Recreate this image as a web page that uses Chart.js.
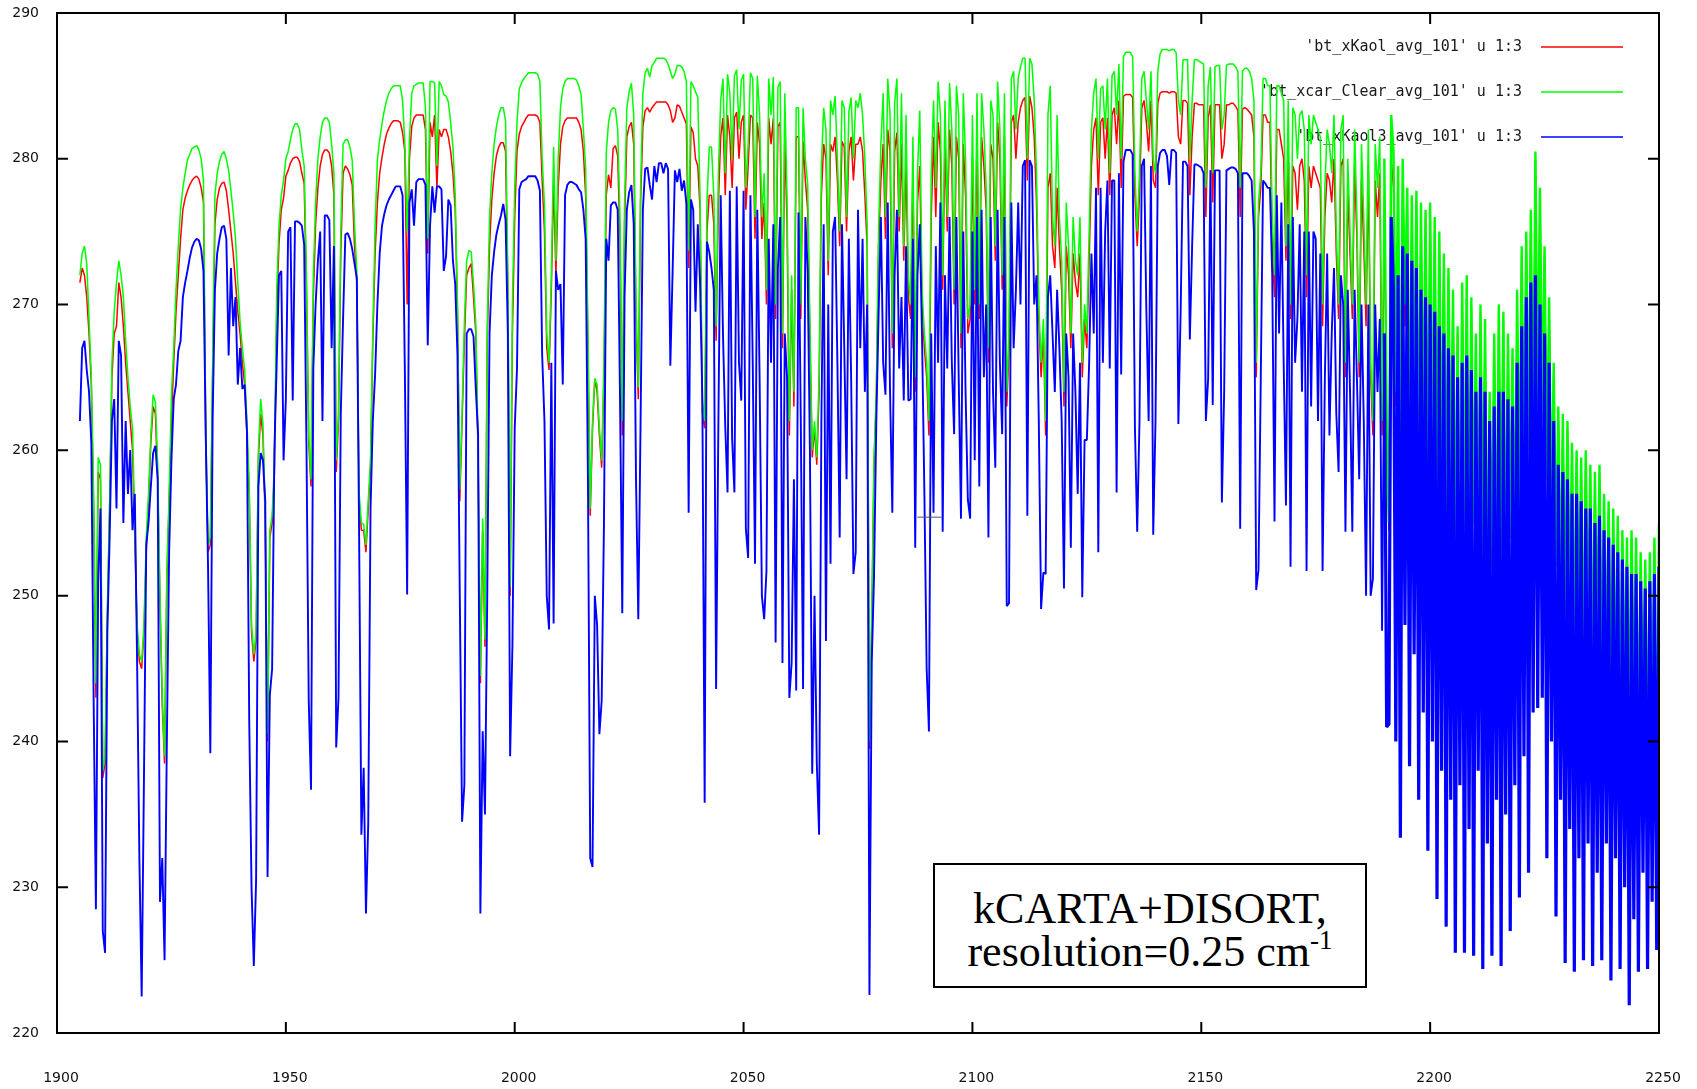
<!DOCTYPE html>
<html>
<head>
<meta charset="utf-8">
<title>kCARTA+DISORT brightness temperatures</title>
<script src="https://cdn.jsdelivr.net/npm/chart.js@4.4.1/dist/chart.umd.min.js"></script>
<style>
  html, body { margin: 0; padding: 0; background: #fff; }
  #wrap { position: relative; width: 1697px; height: 1089px; }
  #note {
    position: absolute; left: 933px; top: 863px;
    width: 430px; height: 99px; padding-top: 22px;
    border: 2px solid #000; background: #fff; color: #000;
    font-family: "Liberation Serif", "Times New Roman", serif;
    font-size: 44px; line-height: 43px; text-align: center;
  }
  #note sup { font-size: 27px; line-height: 0; vertical-align: 17px; }
</style>
</head>
<body>
<div id="wrap">
  <canvas id="bt" width="1697" height="1089"></canvas>
  <div id="note">kCARTA+DISORT,<br>resolution=0.25 cm<sup>-1</sup></div>
</div>
<script>
const WN_START = 1905;
const WN_STEP = 0.5;
const DENSE_FROM = 2190;
const X_MIN = 1900, X_MAX = 2250, X_STEP = 50;
const Y_MIN = 220, Y_MAX = 290, Y_STEP = 10;

const keyLabels = [
  "'bt_xKaol_avg_101' u 1:3",
  "'bt_xcar_Clear_avg_101' u 1:3",
  "'bt_xKaol3_avg_101' u 1:3"
];

// brightness temperature (K), one value every 0.5 cm-1 from 1905 to 2250
const btKaol = [
  271.5, 272.5, 272, 270.5, 268, 264.5, 256, 243, 258.5, 258,
  237.5, 238.5, 248.5, 256, 265, 268, 268.5, 271.5, 270.5, 268.5,
  266, 264, 262, 260, 254, 247.5, 245.5, 245, 247.5, 253,
  256.5, 260.5, 263, 262.5, 258, 249.5, 242.5, 238.5, 251, 256.5,
  262, 266, 269.5, 272, 274.5, 276.5, 277.3, 277.8, 278.2, 278.5,
  278.7, 278.8, 278.6, 278, 277, 260.5, 253, 253.5, 265, 275.5,
  277.2, 278, 278.3, 278.4, 277.8, 276.5, 275, 273.5, 271.5, 269.5,
  268, 266, 264.5, 261, 257, 247.5, 245.5, 247, 259.5, 262.5,
  261, 255, 240, 254, 255, 258.5, 269.5, 274.2, 276.5, 277.3,
  278.8, 279.2, 279.7, 280, 280.1, 280.1, 279.8, 279, 278.3, 271,
  260.5, 257.5, 270.5, 275.5, 278, 279.5, 280.3, 280.6, 280.6, 280.4,
  279.5, 277.5, 258.5, 262, 273.5, 279, 279.5, 279.3, 278.9, 278.2,
  274, 271.5, 256.5, 254.5, 254.5, 253, 256, 258.8, 267.5, 273.5,
  277, 279, 280.1, 281, 281.7, 282.1, 282.4, 282.6, 282.6, 282.6,
  282.5, 281.8, 280.5, 270, 280, 282.2, 282.8, 283, 283, 283,
  283, 282, 273.5, 282.5, 281.5, 283, 278, 282, 281.5, 282,
  282, 281.5, 280.5, 279, 276.5, 269.5, 256.5, 262, 267.5, 272,
  272.5, 272.8, 270.5, 268, 259.5, 244, 254.5, 246.5, 267.5, 274,
  277.2, 279, 280.2, 280.8, 281.1, 281.1, 280.5, 271, 250, 268,
  276, 280.5, 281.7, 282.2, 282.5, 282.8, 283, 283, 283, 283,
  282.9, 282.5, 278.5, 275, 267, 265.5, 271, 278.5, 272, 278,
  281, 282.2, 282.6, 282.8, 282.8, 282.8, 282.8, 282.8, 282.5, 282,
  280.5, 277.5, 267, 255.5, 261.5, 264.9, 264, 261, 258.8, 265,
  277.5, 278.9, 278, 280.7, 280.9, 280.2, 274.5, 261, 275.5, 281.5,
  282.2, 282.5, 281, 269, 263.5, 277, 282.2, 283.3, 283.5, 283.2,
  283.5, 283.7, 283.9, 283.9, 283.9, 283.9, 283.9, 283.7, 283.3, 282.5,
  282.8, 283.7, 283.6, 283.2, 282.8, 282.4, 272.5, 282.2, 281.8, 280,
  279.5, 276.5, 262.5, 261.5, 275, 277.5, 277.5, 275.5, 267.5, 277,
  281.5, 282.8, 277.5, 283, 281.5, 278, 282.8, 283.2, 280, 282.5,
  283, 276.5, 279.5, 283, 282.8, 274.5, 282.5, 281, 274.5, 277,
  270, 282.8, 281, 282.8, 269, 282.2, 282.5, 267, 281.5, 275.5,
  261, 271, 263, 281.5, 281.5, 269, 281.2, 278.5, 276.5, 267.5,
  259.5, 261.5, 259, 264, 277.5, 281, 280, 272, 281, 280.5,
  281.5, 278.5, 274, 281.2, 280.8, 275, 280.5, 281.5, 278.5, 281,
  281, 281.5, 280.5, 277.5, 274, 239.5, 248, 259, 263.5, 274,
  278.5, 281, 274.5, 282, 280.5, 267, 280.5, 281.8, 275, 281,
  273, 280, 270.5, 269, 279, 264, 277, 279.5, 270, 267,
  265, 261, 276, 281.5, 276, 282.5, 280.5, 271, 281, 275,
  282, 279.5, 270, 281.5, 280, 267, 281, 277.5, 268, 269,
  280, 270, 281.5, 269, 281.5, 279.5, 276.5, 266, 281, 280,
  273, 282.5, 280, 271, 281.5, 263, 267, 282.5, 283, 280,
  282.5, 283.5, 284, 284.2, 278.5, 284.3, 283.5, 281.5, 277, 269,
  265, 268, 261, 278, 279, 274, 272.5, 278, 274, 271,
  263, 274, 272, 267, 273.5, 271.5, 270.5, 273.5, 265, 269,
  267, 273, 279.5, 282, 282.8, 277.5, 282.5, 282.8, 280, 282.8,
  277.5, 283, 283.5, 281, 284, 278, 284.3, 284.4, 284.4, 284.4,
  284.2, 277.5, 274, 277.5, 283.5, 284, 282.5, 280.5, 284, 278.5,
  278, 283.8, 284.5, 284.6, 284.6, 284.6, 284.5, 284.6, 284.6, 284.5,
  281.5, 281, 284, 284, 283.8, 277.5, 281.5, 283.8, 283.8, 283.7,
  283.7, 283.7, 276, 282.8, 283.7, 277, 283.7, 283.7, 283.7, 280,
  281, 283.7, 283.7, 283.8, 283.8, 283.6, 283.3, 276, 283.4, 283.5,
  283.4, 283.2, 283, 281.5, 265, 276, 278, 283, 283, 282.5,
  282.5, 274, 270.5, 282, 282, 281, 280, 273, 280.5, 269,
  279.5, 279, 276.5, 279.5, 280, 278.5, 270.5, 279.5, 278, 279.5,
  279, 278.5, 278, 268.5, 276, 279, 278.5, 277, 280, 273.5,
  269, 279.5, 280, 265, 278, 273.5, 269, 279.5, 274.5, 265,
  278.5, 274, 268.5, 279.5, 265, 261, 278.5, 276, 279, 261,
  277.5, 261, 254.5, 280, 278, 263, 277.5, 257, 278, 268.5,
  277.5, 259, 277, 262, 277.3, 257, 276.5, 260, 276, 256,
  276.5, 259, 275.5, 255, 274.5, 258, 273, 254, 272, 257,
  270.5, 252, 268, 250, 271, 254, 271.5, 251, 270, 255,
  267.5, 250, 269.5, 253, 268.5, 249.5, 263.5, 252, 267.5, 250,
  269.5, 253, 269, 250, 267.5, 254, 266.5, 252, 270.5, 256,
  273.5, 258, 274.5, 260, 276, 259, 280, 263, 277.5, 262,
  273.5, 258, 270, 255, 265.5, 252, 262.5, 250, 262, 247,
  261.5, 249, 260, 246, 259.5, 248, 259, 245, 259.5, 247,
  258.5, 244, 258, 246, 258.5, 243, 256.5, 245, 256, 242,
  255.5, 244, 255, 241, 254, 243, 253.5, 240, 254, 242,
  253.5, 239, 252.5, 241, 252, 238, 252.5, 240, 253.5, 236,
  254.5
];

const btClear = [
  272, 273.5, 274, 272.8, 269, 265, 257, 244, 259.5, 259,
  238, 239, 249, 256.5, 266, 269.5, 271.5, 273, 272, 270.5,
  267.5, 265, 263, 261.5, 255, 248, 246, 245.5, 248, 254,
  257, 261, 263.8, 263.3, 259, 250, 243, 239, 251.7, 257,
  263.8, 267, 271, 274, 276.5, 278, 279, 279.9, 280.3, 280.7,
  280.8, 280.9, 280.6, 280, 278.5, 261.5, 253.5, 254, 266, 277.5,
  279, 279.8, 280.3, 280.5, 280, 279.2, 277.8, 276.3, 274.5, 271.5,
  268.8, 267, 265.5, 262, 257.5, 248, 246, 247.5, 260, 263.5,
  261.8, 255.5, 240.5, 254.5, 255.5, 259, 271, 275.4, 277.5, 278.5,
  280, 280.5, 281.3, 282, 282.4, 282.4, 282, 280.6, 279.5, 272,
  261, 258, 272, 277, 280, 281.5, 282.5, 282.8, 282.8, 282.5,
  281, 279, 259.3, 262.5, 275, 281, 281.3, 281.3, 280.8, 279.9,
  275.5, 272.3, 257.1, 255, 254.9, 253.5, 256.6, 259.3, 268.2, 275.4,
  279.9, 281.3, 282.4, 283.3, 284, 284.5, 284.8, 285, 285, 285,
  285, 284, 281, 275, 281.3, 284.5, 285, 285.1, 285.2, 285.2,
  285.2, 283.5, 274.5, 285.3, 285.3, 285.2, 279.5, 285.3, 285, 284.4,
  284.3, 283.9, 282.5, 280.8, 277.5, 270, 257.3, 262.5, 268.7, 273,
  273.7, 273.6, 271.4, 268.7, 260, 244.5, 255.3, 247, 268.5, 276,
  279, 281, 282.2, 283, 283.5, 283.5, 282.6, 272, 250.6, 270,
  278, 282.5, 284.8, 285.2, 285.5, 285.7, 285.9, 285.9, 285.9, 285.9,
  285.8, 285.3, 280, 276.8, 268, 266, 272, 280.8, 273, 280,
  283.5, 284.8, 285.3, 285.5, 285.5, 285.5, 285.5, 285.4, 285, 284.4,
  282, 279.3, 268, 256, 262, 264.9, 264.5, 261.5, 259.3, 266,
  280.4, 282.5, 283.3, 283.5, 283.4, 282, 276, 262, 277, 283.5,
  284.6, 285.2, 283, 270, 264.3, 278, 284.5, 285.9, 286.2, 285.6,
  286.4, 286.6, 286.9, 286.9, 286.9, 286.9, 286.8, 286.5, 286, 285.5,
  285.8, 286.4, 286.4, 286.3, 286, 285.3, 273.7, 285.3, 285, 284.6,
  284.2, 277.3, 263.4, 262, 277, 280.8, 280.8, 277.4, 268.5, 279,
  284, 285.5, 279, 285.8, 284.5, 280, 285.7, 286.1, 282, 285.4,
  285.8, 278, 281, 285.9, 285.5, 276, 285.7, 283, 276, 279,
  271, 285.5, 283, 285.6, 270, 284.9, 285.3, 268, 284.5, 277.4,
  262, 272, 264, 283.5, 283.5, 270, 283.5, 280, 278.3, 268.5,
  260, 262, 259.5, 265, 279.5, 283.5, 282, 273, 284, 283,
  284.3, 280, 275, 284, 283.5, 276, 283.2, 284.2, 280, 284,
  283.5, 284.5, 283, 280, 275.5, 240, 248.6, 259.5, 264, 275.2,
  281, 284.5, 276, 285.5, 283, 268, 283.8, 285.5, 276, 284.5,
  274, 283, 272, 270, 281.5, 265, 279, 283.3, 271, 268,
  266, 262, 279, 284, 278, 285.3, 283, 272, 284, 276,
  285.2, 282, 271, 285, 283, 268, 284.5, 280, 269, 270,
  283, 271, 284.5, 270, 284.5, 282, 278, 267, 284, 283,
  274, 285.3, 282, 272, 284.5, 264, 268, 285.5, 286, 282,
  285.5, 286.3, 286.9, 286.9, 280, 286.9, 286.5, 284, 279, 270,
  266, 269, 262, 283, 285, 276, 274, 283, 276, 273,
  264, 277, 274, 268, 276, 273, 272, 276, 266, 270,
  268, 275, 282, 284.5, 285.5, 280, 284.8, 285, 282, 285.5,
  279, 285.7, 286, 283, 286.5, 280, 287, 287.3, 287.3, 287.3,
  287, 279, 275, 279, 285.5, 286, 284, 282, 286, 280,
  279, 286, 287.2, 287.5, 287.5, 287.5, 287.4, 287.5, 287.5, 287.3,
  284, 283, 286.8, 286.8, 286.8, 280, 284, 286.8, 286.8, 286.7,
  286.6, 286.5, 278, 285, 286.3, 279, 286.3, 286.4, 286.4, 282,
  283, 286.4, 286.5, 286.5, 286.5, 286.3, 286, 278, 286, 286.2,
  286.2, 286, 285.5, 284, 266, 277, 279, 285.5, 285.5, 285,
  285, 276, 272, 285, 285, 284.5, 284, 274, 284, 270,
  283.5, 283, 280, 283, 283.3, 282, 272, 283, 281, 283,
  282.5, 282, 281.5, 270, 278, 282, 281, 279, 283, 275,
  270, 282, 283, 266, 280, 275, 270, 282, 276, 266,
  281, 276, 270, 282, 266, 262, 281, 278, 281.5, 262,
  280, 262, 255, 283, 280.5, 264, 279.5, 258, 280, 270,
  278, 259, 277.5, 262, 277.8, 257, 277, 260, 276.5, 256,
  277, 259, 276, 255, 275, 258, 273.5, 254, 272.5, 257,
  271, 252, 268.5, 250, 271.5, 254, 272, 251, 270.5, 255,
  268, 250, 270, 253, 269, 249.5, 264, 252, 268, 250,
  270, 253, 269.5, 250, 268, 254, 267, 252, 271, 256,
  274, 258, 275, 260, 276.5, 259, 280.5, 263, 278, 262,
  274, 258, 270.5, 255, 266, 252, 263, 250, 262.5, 247,
  262, 249, 260.5, 246, 260, 248, 259.5, 245, 260, 247,
  259, 244, 258.5, 246, 259, 243, 257, 245, 256.5, 242,
  256, 244, 255.5, 241, 254.5, 243, 254, 240, 254.5, 242,
  254, 239, 253, 241, 252.5, 238, 253, 240, 254, 236,
  255
];

const btKaol3 = [
  262, 267, 267.5, 265.5, 264, 260.5, 243, 228.5, 251, 256,
  227, 225.5, 247.5, 254, 262, 263.5, 256, 267.5, 266.5, 255,
  262, 257, 260, 254.5, 257, 245.5, 232, 222.5, 237.5, 253.5,
  255, 257.5, 259.8, 260.3, 258, 229, 232, 225, 240, 253,
  259.3, 263.5, 264.5, 266.8, 267.5, 270.5, 271.5, 272.3, 273.2, 273.9,
  274.3, 274.5, 274.4, 273.8, 272.3, 261, 252, 239.2, 262, 271,
  273.5, 274.5, 275.3, 275.4, 274.5, 266.5, 272.5, 268.5, 270.5, 264.5,
  267, 264.2, 264.5, 261.3, 241.4, 230, 224.6, 230.5, 257.5, 259.8,
  259.3, 256.5, 230.7, 243.2, 245, 260, 266, 272, 272.3, 259.3,
  263.5, 275, 275.3, 263.4, 275.7, 275.7, 275.6, 275.4, 274.1, 260.4,
  242.8, 236.7, 265.6, 270, 273, 275, 262, 276.1, 276.1, 275.8,
  267, 274, 239.6, 243, 262.5, 269, 274.8, 274.9, 274.5, 273.8,
  272.8, 271.8, 254.4, 233.6, 238.2, 228.2, 234.4, 256, 262, 265.2,
  270, 273.5, 275.4, 276.2, 276.8, 277.2, 277.5, 277.8, 278.1, 278.1,
  278.1, 277.5, 265.4, 250.1, 277, 277.9, 275.4, 278.4, 278.6, 278.6,
  278.6, 278.2, 267.2, 275.4, 278.1, 276.3, 278.1, 278.1, 277.9, 272.3,
  273.3, 277.2, 276.8, 273, 271.4, 266.5, 250, 234.5, 237, 268,
  268.3, 268.3, 267.8, 264.2, 261.1, 228.2, 240.7, 235, 250, 268,
  272, 273.6, 274.8, 275.5, 276.1, 276.9, 275.8, 268, 239, 246.6,
  261.5, 265.6, 277.9, 278.4, 278.5, 278.6, 278.8, 278.8, 278.8, 278.8,
  278.5, 277.8, 266.5, 262, 250, 247.7, 266, 248.1, 272.3, 271,
  271.4, 264.5, 277.5, 278.2, 278.4, 278.4, 278.3, 278.2, 277.9, 277.7,
  276.5, 274.5, 258, 232, 231.4, 250, 248, 240.5, 242.8, 255,
  274.5, 273, 276.8, 277, 277, 276.5, 263.8, 248.8, 270.5, 276.5,
  277.7, 278.2, 275.5, 258, 248.4, 262, 276.5, 279.3, 279.4, 278.2,
  277.2, 279.5, 278.4, 279.7, 279.7, 279, 279.7, 279.3, 265.8, 272.3,
  279.2, 278.4, 279.3, 277.8, 278.5, 276.9, 255.7, 277.2, 276.5, 269.5,
  275.5, 271.4, 263.4, 235.8, 274.3, 273.6, 272.5, 271, 243.6, 262,
  277.5, 268, 261.6, 257.1, 277.8, 260.8, 257.1, 278.1, 266, 263.4,
  277.8, 254.6, 252.6, 277.5, 266, 252.2, 276.5, 265, 250, 248.4,
  251.7, 274.5, 266, 275.5, 246.8, 272.5, 276, 245.4, 268, 265,
  243, 245.4, 258, 243.5, 276.3, 262, 243.6, 276, 272.3, 259.8,
  237.8, 250, 238.5, 233.6, 262, 275.5, 246.9, 270, 252.2, 275,
  276, 266, 254, 275.5, 267, 258, 274.5, 265, 251.5, 253,
  276.5, 267, 274.5, 264, 270, 222.6, 245.4, 251.3, 262, 269.3,
  276, 266, 263.8, 277, 264, 255.7, 272, 276.5, 265.6, 270.5,
  263.4, 274, 263.4, 263.5, 274.5, 253.3, 272, 275.5, 267.6, 257.1,
  245, 240.7, 268, 255.7, 274, 266, 277, 254.4, 272, 265.6,
  276, 266, 261.1, 276, 265, 255.3, 275, 264, 256.6, 255.3,
  275, 259.3, 276, 257.5, 276.5, 265, 270, 254, 276, 264,
  258.8, 276.5, 266, 261.1, 276, 249.3, 249.5, 277, 267, 271,
  277, 270, 279.5, 279.9, 255.5, 279.9, 279.5, 270, 272, 262,
  249.1, 251.6, 251.5, 270.5, 272, 268, 264, 271, 267, 262,
  250.5, 268, 265, 253.3, 268, 264, 257, 266, 249.9, 260.7,
  260.7, 266, 273.5, 268, 278, 253, 278, 266, 275, 278.5,
  265.6, 278.5, 278.5, 257.1, 279, 265.2, 279.8, 280.6, 280.6, 280.6,
  280.3, 261.6, 254.4, 262, 279.5, 280, 269.6, 262, 279.5, 254.2,
  262, 279.5, 280.4, 280.6, 280.6, 280.2, 278.2, 280.6, 280.6, 280.4,
  261.8, 269.7, 279.8, 279.8, 279.5, 267.6, 274, 279.6, 279.6, 279.5,
  279.4, 279, 262, 264.9, 279.2, 263.1, 279.2, 279.2, 279.2, 256.4,
  264, 279.2, 279.3, 279.4, 279.4, 279.3, 279, 254.6, 279, 279,
  279, 278.8, 278.5, 275, 250.4, 251.8, 265, 278.5, 278.3, 278,
  278, 272, 255.1, 277.5, 268, 277, 266, 256.2, 275.5, 252,
  276, 266, 269, 275.5, 264, 275, 251.7, 275, 263, 275,
  274.5, 262, 273.5, 251.7, 265, 273.5, 261, 268, 272.5, 262.5,
  258.5, 272, 270, 254.4, 271, 264, 254.4, 271, 265, 258,
  270, 262, 250, 270, 250, 251.2, 270, 264, 269, 247.6,
  268, 241, 241.2, 276, 271, 240, 272, 233.4, 274, 248,
  273.5, 238.3, 273, 246, 272.5, 236, 271, 242, 270.5, 232.5,
  270, 240, 269.5, 229.2, 268.5, 238, 268, 227.3, 267, 236,
  266.5, 225.5, 265, 237, 266, 225.5, 266.5, 234, 265.5, 225.3,
  264, 238, 265, 224.4, 264, 233, 262, 225.3, 263, 236,
  264, 224.6, 264, 235, 263.5, 227, 263, 237, 266, 229.3,
  268.5, 239, 270.5, 231, 271.5, 242, 272, 242.3, 270, 243,
  268, 232, 266, 240, 262, 228, 259, 236, 258.5, 224.8,
  258, 234, 257, 224.2, 257, 232, 256.5, 225, 256, 233,
  256, 224.6, 255, 231, 255.5, 225, 254.5, 233, 254, 223.6,
  253.5, 232, 253, 224.4, 252.5, 230, 252, 221.9, 251.5, 227.8,
  251.5, 224.2, 251, 231, 250.5, 224.4, 251, 229, 251.5, 225.7,
  252
];

const seriesColors = ["#ff0000", "#00ff00", "#0000ff"];
const lineWidths = [1.5, 1.5, 1.9];
const denseWidths = [1.5, 2.4, 3.2];

function toPoints(vals) {
  return vals.map((y, i) => ({ x: WN_START + i * WN_STEP, y }));
}

[btKaol, btClear, btKaol3].forEach((a, i) => {
  if (a.length !== 691) console.warn("series", i, "has", a.length, "values");
});

const tickFont = { family: "DejaVu Sans", size: 14 };

// gnuplot look: full frame, inward ticks on all four sides, key top right
const gnuplotFrame = {
  id: "gnuplotFrame",
  beforeDatasetsDraw(chart) {
    const { ctx, chartArea: a } = chart;
    ctx.save();
    ctx.font = '15px "DejaVu Sans Mono"';
    ctx.textAlign = "right";
    ctx.textBaseline = "middle";
    keyLabels.forEach((txt, i) => {
      const y = a.top + 34 + 45 * i;
      ctx.fillStyle = "#1a1a1a";
      ctx.fillText(txt, a.right - 137, y);
      ctx.strokeStyle = seriesColors[i];
      ctx.lineWidth = 1.4;
      ctx.beginPath();
      ctx.moveTo(a.right - 118, y);
      ctx.lineTo(a.right - 36, y);
      ctx.stroke();
    });
    ctx.restore();
  },
  afterDatasetsDraw(chart) {
    const { ctx, chartArea: a, scales } = chart;
    const len = 11;
    ctx.save();
    ctx.strokeStyle = "#000";
    ctx.lineWidth = 2;
    ctx.beginPath();
    scales.x.ticks.forEach((t) => {
      const px = scales.x.getPixelForValue(t.value);
      ctx.moveTo(px, a.bottom); ctx.lineTo(px, a.bottom - len);
      ctx.moveTo(px, a.top); ctx.lineTo(px, a.top + len);
    });
    scales.y.ticks.forEach((t) => {
      const py = scales.y.getPixelForValue(t.value);
      ctx.moveTo(a.left, py); ctx.lineTo(a.left + len, py);
      ctx.moveTo(a.right, py); ctx.lineTo(a.right - len, py);
    });
    ctx.stroke();
    ctx.strokeRect(a.left, a.top, a.right - a.left, a.bottom - a.top);

    // mouse cross left in the original screenshot
    const cx = scales.x.getPixelForValue(2090.6);
    const cy = scales.y.getPixelForValue(255.4);
    ctx.strokeStyle = "#555";
    ctx.lineWidth = 1;
    ctx.beginPath();
    ctx.moveTo(cx - 12, cy); ctx.lineTo(cx + 12, cy);
    ctx.moveTo(cx, cy - 9); ctx.lineTo(cx, cy + 9);
    ctx.stroke();
    ctx.restore();
  }
};

const datasets = [btKaol, btClear, btKaol3].map((vals, i) => ({
  label: keyLabels[i],
  data: toPoints(vals),
  borderColor: seriesColors[i],
  borderWidth: lineWidths[i],
  segment: {
    borderWidth: (c) => (c.p0.parsed.x >= DENSE_FROM ? denseWidths[i] : lineWidths[i])
  },
  order: 2 - i
}));

new Chart(document.getElementById("bt"), {
  type: "line",
  data: { datasets },
  options: {
    responsive: false,
    animation: false,
    events: [],
    elements: { point: { radius: 0 }, line: { tension: 0, fill: false, borderJoinStyle: "bevel" } },
    layout: { padding: { top: 13, right: 38, left: 0, bottom: 0 } },
    plugins: { legend: { display: false }, tooltip: { enabled: false } },
    scales: {
      x: {
        type: "linear",
        min: X_MIN,
        max: X_MAX,
        afterFit: (s) => { s.height = 56; s.paddingLeft = 0; s.paddingRight = 0; },
        grid: { display: false, drawTicks: false },
        border: { display: false },
        ticks: {
          stepSize: X_STEP,
          autoSkip: false,
          maxRotation: 0,
          padding: 37,
          labelOffset: 4,
          color: "#111",
          font: tickFont,
          callback: (v) => String(v)
        }
      },
      y: {
        min: Y_MIN,
        max: Y_MAX,
        afterFit: (s) => { s.width = 57; s.paddingTop = 0; s.paddingBottom = 0; },
        grid: { display: false, drawTicks: false },
        border: { display: false },
        ticks: {
          stepSize: Y_STEP,
          padding: 18,
          color: "#111",
          font: tickFont,
          callback: (v) => String(v)
        }
      }
    }
  },
  plugins: [gnuplotFrame]
});
</script>
</body>
</html>
